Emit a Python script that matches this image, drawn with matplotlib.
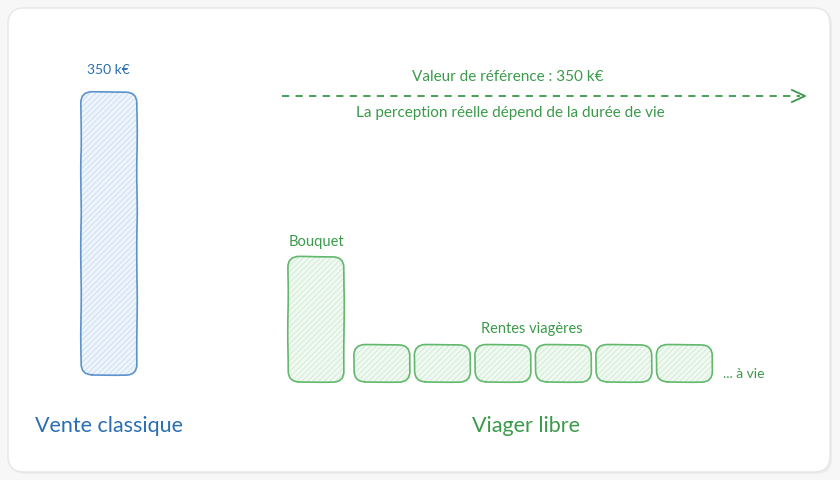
import matplotlib
matplotlib.use("Agg")
import matplotlib.pyplot as plt
from matplotlib.patches import FancyBboxPatch

# values (k€, schematic)
vente_label = "Vente classique"
vente_value = 350
viager_label = "Viager libre"
bouquet_value = 155
rentes_values = [46, 46, 46, 46, 46, 46]
ref_text = "Valeur de référence : 350 k€"
perception_text = "La perception réelle dépend de la durée de vie"

BLUE_TXT = "#2a6fb3"
BLUE_EDGE = "#5b93cf"
BLUE_FILL = "#eef4fb"
BLUE_HATCH = "#c3d8ee"
GREEN_TXT = "#3a9a4a"
GREEN_EDGE = "#62b86c"
GREEN_FILL = "#f0f9f1"
GREEN_HATCH = "#c8e7cc"

PX_PER_K = 283 / 350.0   # vertical scale, pixels per k€
H = 480

plt.rcParams["font.family"] = ["Lato", "DejaVu Sans"]
plt.rcParams["hatch.linewidth"] = 0.5

fig = plt.figure(figsize=(8.4, 4.8), dpi=100)
fig.patch.set_facecolor("#f7f7f7")
ax = fig.add_axes([0, 0, 1, 1])
ax.set_xlim(0, 840)
ax.set_ylim(0, H)
ax.axis("off")

# card
ax.add_patch(FancyBboxPatch((10, 6), 822, 465, boxstyle="round,pad=0,rounding_size=16",
                            fc="#ececec", ec="none", zorder=0))
ax.add_patch(FancyBboxPatch((8, 8), 822, 464, boxstyle="round,pad=0,rounding_size=16",
                            fc="white", ec="#e6e6e6", lw=1, zorder=0.5))


def bar(x, base, w, value, fill, hatch_c, edge):
    h = value * PX_PER_K
    ax.add_patch(FancyBboxPatch((x, base), w, h, boxstyle="round,pad=0,rounding_size=11",
                                fc=fill, ec=hatch_c, lw=0, hatch="//////", zorder=2))
    p = FancyBboxPatch((x, base), w, h, boxstyle="round,pad=0,rounding_size=11",
                       fc="none", ec=edge, lw=1.2, zorder=3)
    p.set_sketch_params(scale=0.25, length=120, randomness=4)
    ax.add_patch(p)
    return h


# vente classique
base_v = H - 375
hv = bar(81, base_v, 56, vente_value, BLUE_FILL, BLUE_HATCH, BLUE_EDGE)
ax.text(108, base_v + hv + 22, f"{vente_value} k€", color=BLUE_TXT, fontsize=10,
        ha="center", va="center")
ax.text(109, H - 426, vente_label, color=BLUE_TXT, fontsize=15.5, ha="center", va="center")

# viager libre
base_g = H - 382
hb = bar(288, base_g, 56, bouquet_value, GREEN_FILL, GREEN_HATCH, GREEN_EDGE)
ax.text(316, base_g + hb + 15, "Bouquet", color=GREEN_TXT, fontsize=10.5, ha="center", va="center")

x0, pitch = 354, 60.5
for i, v in enumerate(rentes_values):
    hr = bar(x0 + i * pitch, base_g, 56, v, GREEN_FILL, GREEN_HATCH, GREEN_EDGE)
mid = x0 + (len(rentes_values) * pitch - 4.5) / 2
ax.text(mid - 1, base_g + hr + 16, "Rentes viagères", color=GREEN_TXT, fontsize=10.5,
        ha="center", va="center")
ax.text(723, H - 374, "... à vie", color=GREEN_TXT, fontsize=10, ha="left", va="center")
ax.text(526, H - 426, viager_label, color=GREEN_TXT, fontsize=15.5, ha="center", va="center")

# reference arrow
y_arr = H - 96
ax.plot([282, 800], [y_arr, y_arr], color=GREEN_TXT, lw=1.3, ls=(0, (4, 3.5)), zorder=3)
ax.plot([792, 805, 792], [y_arr + 6, y_arr, y_arr - 6], color=GREEN_TXT, lw=1.3, zorder=3)
ax.text(508, H - 77, ref_text, color=GREEN_TXT, fontsize=11, ha="center", va="center")
ax.text(510, H - 113, perception_text, color=GREEN_TXT, fontsize=11, ha="center", va="center")

fig.savefig("out.png", dpi=100, facecolor=fig.get_facecolor())
